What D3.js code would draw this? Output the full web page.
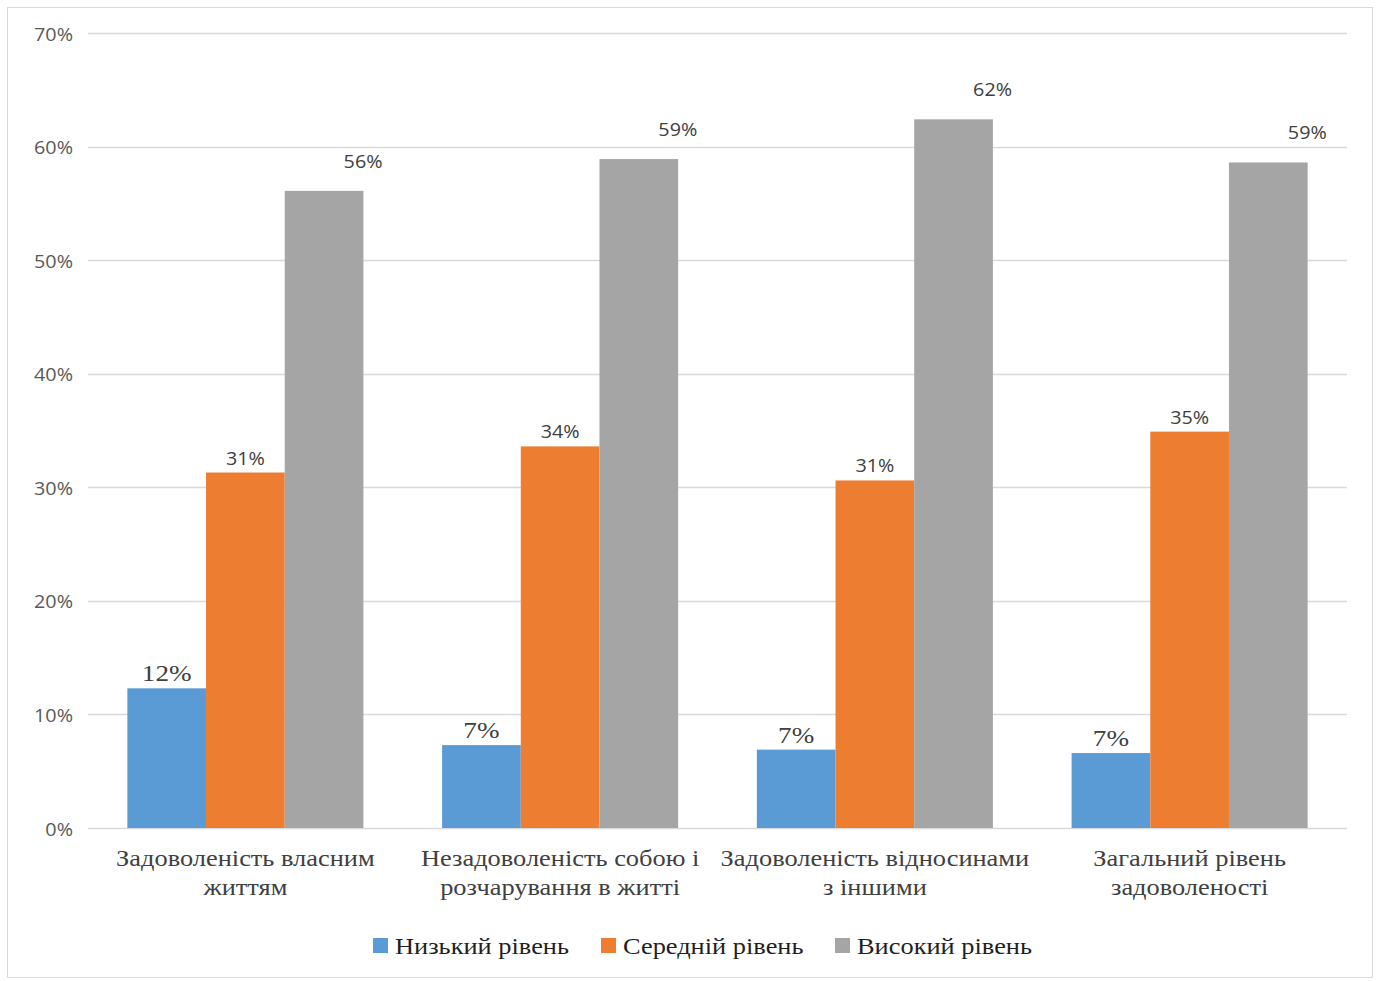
<!DOCTYPE html>
<html>
<head>
<meta charset="utf-8">
<script src="https://cdn.jsdelivr.net/npm/d3@7"></script>
<style>
  html, body { margin: 0; padding: 0; background: #fff; }
  svg { display: block; }
</style>
</head>
<body>
<svg id="chart" width="1376" height="981"></svg>
<script>
// Satisfaction levels by scale (line breaks mark the label wrapping)
const categories = [
  "Задоволеність власним\nжиттям",
  "Незадоволеність собою і\nрозчарування в житті",
  "Задоволеність відносинами\nз іншими",
  "Загальний рівень\nзадоволеності"
];
const seriesNames = ["Низький рівень", "Середній рівень", "Високий рівень"];
const lowValues    = [0.123, 0.073, 0.069, 0.066];
const mediumValues = [0.313, 0.336, 0.306, 0.349];
const highValues   = [0.561, 0.589, 0.624, 0.586];
const yTicks = [0, 0.1, 0.2, 0.3, 0.4, 0.5, 0.6, 0.7];

const colors = ["#5B9BD5", "#ED7D31", "#A5A5A5"];
const seriesValues = [lowValues, mediumValues, highValues];

const SERIF = "'Liberation Serif', 'Times New Roman', serif";
const SANS = "'Open Sans', 'Noto Sans', sans-serif";
const STRETCH = 1.13; // wide text rendering

const svg = d3.select("#chart");
const W = 1376, H = 981;
const margin = { left: 88, right: 29, top: 33, bottom: 153 };

// places a horizontally widened text at (x, y)
function placeText(sel, xf, yf, sx) {
  sel.attr("x", 0).attr("y", 0)
    .attr("transform", (d, i) => `translate(${xf(d, i)},${yf(d, i)}) scale(${sx},1)`);
}

// outer frame
svg.append("rect")
  .attr("x", 7.5).attr("y", 7.5)
  .attr("width", 1365).attr("height", 970)
  .attr("fill", "#fff").attr("stroke", "#D9D9D9").attr("stroke-width", 1);

const x0 = d3.scaleBand()
  .domain(categories)
  .range([margin.left, W - margin.right])
  .paddingInner(0.25)
  .paddingOuter(0.125);

const x1 = d3.scaleBand()
  .domain(seriesNames)
  .range([0, x0.bandwidth()])
  .padding(0);

const y = d3.scaleLinear()
  .domain([0, 0.7])
  .range([H - margin.bottom, margin.top]);

// gridlines
svg.append("g")
  .selectAll("line")
  .data(yTicks)
  .join("line")
  .attr("x1", margin.left).attr("x2", W - margin.right)
  .attr("y1", d => Math.round(y(d)) + 0.5).attr("y2", d => Math.round(y(d)) + 0.5)
  .attr("stroke", "#D9D9D9").attr("stroke-width", 1.3);

// y axis labels
const fmt = d3.format(".0%");
const yAxis = d3.axisLeft(y)
  .tickValues(yTicks)
  .tickFormat(fmt)
  .tickSize(0)
  .tickPadding(15);
const yg = svg.append("g")
  .attr("transform", `translate(${margin.left},0)`)
  .call(yAxis);
yg.select(".domain").remove();
yg.selectAll(".tick text")
  .attr("fill", "#595959")
  .attr("dy", null)
  .attr("dominant-baseline", "central")
  .style("font-family", SANS)
  .style("font-size", "17.5px")
  .call(placeText, () => -15, () => 0, STRETCH);

// bars
const rows = categories.map((c, i) => ({
  category: c,
  values: seriesNames.map((s, k) => ({ series: s, k, value: seriesValues[k][i] }))
}));

const groups = svg.append("g")
  .selectAll("g")
  .data(rows)
  .join("g")
  .attr("transform", d => `translate(${x0(d.category)},0)`);

groups.selectAll("rect")
  .data(d => d.values)
  .join("rect")
  .attr("x", d => x1(d.series))
  .attr("width", x1.bandwidth())
  .attr("y", d => y(d.value))
  .attr("height", d => y(0) - y(d.value))
  .attr("fill", d => colors[d.k]);

// value labels
groups.selectAll("text.val")
  .data(d => d.values)
  .join("text")
  .attr("class", "val")
  .attr("text-anchor", "middle")
  .attr("fill", "#404040")
  .style("font-family", d => d.k === 0 ? SERIF : SANS)
  .style("font-size", d => d.k === 0 ? "24px" : "17.5px")
  .text(d => fmt(d.value))
  .call(placeText,
    d => x1(d.series) + x1.bandwidth() / 2 + (d.k === 2 ? 39 : 0),
    d => y(d.value) - (d.k === 0 ? 7 : d.k === 1 ? 8 : 23),
    STRETCH);

// category labels
const catText = svg.append("g")
  .selectAll("text")
  .data(categories)
  .join("text")
  .attr("text-anchor", "middle")
  .attr("fill", "#404040")
  .style("font-family", SERIF)
  .style("font-size", "24px")
  .call(placeText, d => x0(d) + x0.bandwidth() / 2, () => y(0) + 38, 1.1);

catText.selectAll("tspan")
  .data(d => d.split("\n"))
  .join("tspan")
  .attr("x", 0)
  .attr("dy", (d, i) => i === 0 ? 0 : 29)
  .text(d => d);

// legend
const legendItems = seriesNames.map((s, k) => ({ s, k }));
const lx = [373, 601, 835];
const li = svg.append("g")
  .selectAll("g")
  .data(legendItems)
  .join("g")
  .attr("transform", d => `translate(${lx[d.k]},938)`);
li.append("rect")
  .attr("width", 15).attr("height", 15)
  .attr("fill", d => colors[d.k]);
li.append("text")
  .attr("fill", "#1f1f1f")
  .style("font-family", SERIF)
  .style("font-size", "24px")
  .text(d => d.s)
  .call(placeText, () => 22, () => 16, 1.1);
</script>
</body>
</html>
